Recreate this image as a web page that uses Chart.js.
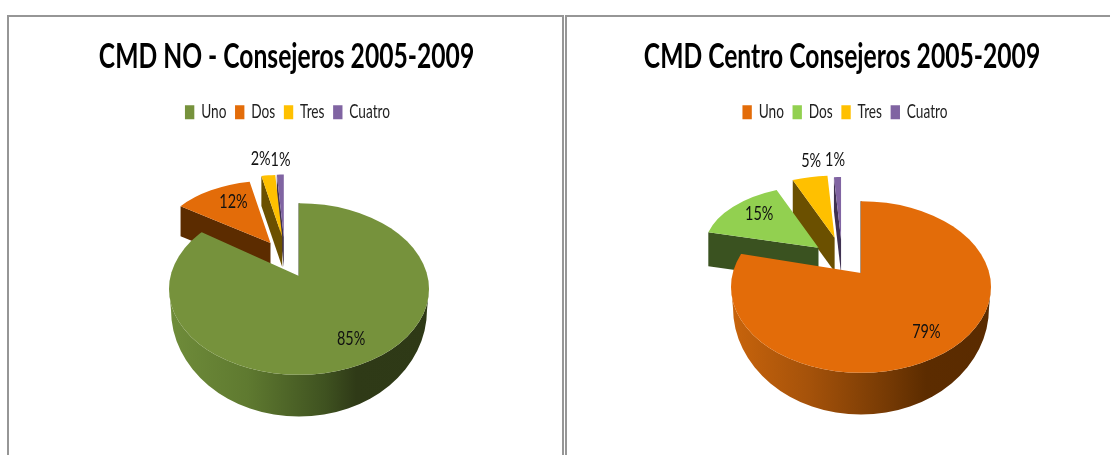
<!DOCTYPE html>
<html><head><meta charset="utf-8">
<script src="https://cdn.jsdelivr.net/npm/chart.js@4"></script>
<style>
html,body{margin:0;padding:0;background:#fff;width:1110px;height:455px;overflow:hidden}
.frame{position:absolute;top:15px;height:520px;border:2px solid #969696;box-sizing:border-box}
canvas{position:absolute;top:17px}
</style></head><body>
<div class="frame" style="left:7px;width:557px"></div>
<div class="frame" style="left:565px;width:600px"></div>
<canvas id="left" width="555" height="438" style="left:9px"></canvas>
<canvas id="right" width="552" height="438" style="left:566px"></canvas>
<script>
const categories = ['Uno','Dos','Tres','Cuatro'];
const titleNO = 'CMD NO - Consejeros 2005-2009';
const titleCentro = 'CMD Centro Consejeros 2005-2009';
const valuesNO = [85,12,2,1];
const valuesCentro = [79,15,5,1];

const FONT = 'Lato,"Liberation Sans",sans-serif';
const SQUEEZE = 0.76;

const pie3d = {
  id:'pie3d',
  // The reference text is horizontally condensed: the library's title and legend are drawn through a narrowing transform.
  beforeDraw(chart,args,o){
    [[chart.titleBlock,o.squeezeTitle,0],[chart.legend,o.squeezeLegend,o.legendShift]].forEach(([box,sq,sh])=>{
      if(!box||box.__wrapped)return;
      const draw=box.draw.bind(box);
      box.__wrapped=true;
      box.draw=function(){
        const c=chart.ctx,m=chart.width/2;
        c.save();c.translate(m+sh,0);c.scale(sq,1);c.translate(-m,0);
        draw();
        c.restore();
      };
    });
  },
  beforeDatasetDraw(chart,args,o){
    const ctx=chart.ctx, arcs=chart.getDatasetMeta(0).data;
    const box=chart.canvas;
    const ax=o.apex[0]-box.offsetLeft, ay=o.apex[1]-box.offsetTop;
    const sliceApex=i=>{
      const a=arcs[i], mid=(a.startAngle+a.endAngle)/2, e=o.explode[i];
      return [ax+e*Math.cos(mid)+o.nudge[i], ay+e*Math.sin(mid)*o.kUp];
    };
    for(let i=arcs.length-1;i>=1;i--){
      const a=arcs[i],[px,py]=sliceApex(i),s=o.shrink,R=a.outerRadius*s;
      const rx=px+R*Math.cos(a.startAngle), ry=py+R*o.kUp*Math.sin(a.startAngle);
      ctx.save();
      ctx.fillStyle=o.walls[i];
      ctx.beginPath();
      ctx.moveTo(px,py);ctx.lineTo(rx,ry);ctx.lineTo(rx,ry+o.depthBack);ctx.lineTo(px,py+o.depthBack);
      ctx.closePath();ctx.fill();
      ctx.restore();
      ctx.save();
      ctx.translate(px,py);ctx.scale(s,s*o.kUp);ctx.translate(-a.x,-a.y);
      a.draw(ctx);
      ctx.restore();
    }
    const m=arcs[0], R=m.outerRadius, ey=ay+o.ellipseDrop, eRy=R*o.kEllipse;
    const g=ctx.createLinearGradient(ax-R,0,ax+R,0);
    o.wallStops.forEach(([p,c])=>g.addColorStop(p,c));
    ctx.save();
    ctx.fillStyle=g;
    ctx.beginPath();
    ctx.ellipse(ax,ey,R,eRy,0,0,Math.PI);
    ctx.ellipse(ax,ey+o.depthSide,R-2,R*o.kBottom,0,Math.PI,0,true);
    ctx.closePath();ctx.fill();
    ctx.strokeStyle=o.walls[0];ctx.lineWidth=1;
    ctx.beginPath();ctx.moveTo(ax,ay);ctx.lineTo(ax,ey-eRy);ctx.stroke();
    ctx.restore();
    // main slice: drawn from its off-centre apex (perspective), clipped to the elliptical outline
    ctx.save();
    ctx.beginPath();ctx.ellipse(ax,ey,R,eRy,0,0,Math.PI*2);ctx.clip();
    ctx.translate(ax,ay);ctx.scale(o.mainScale,o.mainScale*o.kCut);ctx.translate(-m.x,-m.y);
    m.draw(ctx);
    ctx.restore();
    return false;
  },
  afterDatasetsDraw(chart,args,o){
    const ctx=chart.ctx, arcs=chart.getDatasetMeta(0).data, box=chart.canvas;
    const ax=o.apex[0]-box.offsetLeft, ay=o.apex[1]-box.offsetTop;
    const vals=chart.data.datasets[0].data;
    ctx.font=o.labelFont;ctx.fillStyle='#111';ctx.textAlign='center';ctx.textBaseline='middle';
    arcs.forEach((a,i)=>{
      const mid=(a.startAngle+a.endAngle)/2,e=o.explode[i];
      const px=ax+e*Math.cos(mid)+o.nudge[i], py=ay+e*Math.sin(mid)*o.kUp;
      const k=Math.sin(mid)>0?o.kDown:o.kUp;
      const r=o.labelR[i];
      ctx.save();
      ctx.translate(px+r*Math.cos(mid)+o.labelShift[i][0],py+r*Math.sin(mid)*k+o.labelShift[i][1]);
      ctx.scale(SQUEEZE,1);
      ctx.fillText(vals[i]+'%',0,0);
      ctx.restore();
    });
  }
};

function makePie(id,title,values,colors,geom){
  return new Chart(document.getElementById(id),{
    type:'pie',
    data:{labels:categories,datasets:[{data:values,backgroundColor:colors,borderWidth:0}]},
    plugins:[pie3d],
    options:{
      responsive:false,animation:false,radius:130,
      events:[],
      plugins:{
        title:{display:true,text:title,color:'#000',font:{family:FONT,size:34,weight:'bold'},padding:{top:20,bottom:13}},
        legend:{position:'top',labels:{boxWidth:13,boxHeight:14,color:'#222',padding:12,font:{family:FONT,size:19}}},
        tooltip:{enabled:false},
        pie3d:geom
      }
    }
  });
}

const common={kUp:0.56,kDown:0.76,kBottom:0.82,kCut:0.62,mainScale:1.35,kEllipse:0.66,depthSide:21,
  squeezeTitle:0.725,squeezeLegend:0.72,legendShift:0,labelFont:'19px '+FONT};

makePie('left',titleNO,valuesNO,['#76923c','#e36c09','#ffc000','#8064a2'],{...common,
  apex:[299,276],ellipseDrop:13,depthBack:30,shrink:0.855,legendShift:1,
  explode:[0,70,70,70],nudge:[0,9,-8,-13],
  walls:['#3b4a1e','#5c2c00','#6b5000','#3f3151'],
  wallStops:[[0,'#6f8c3a'],[0.3,'#5f7a30'],[0.6,'#3f5220'],[0.72,'#2f3a17'],[1,'#2e3916']],
  labelR:[97,69,140,137],labelShift:[[8,-3],[0,-8],[-4,0],[1,0]]
});
makePie('right',titleCentro,valuesCentro,['#e36c09','#92d050','#ffc000','#8064a2'],{...common,
  kUp:0.546,legendShift:3,
  apex:[861,273],ellipseDrop:14,depthBack:34,shrink:0.875,
  explode:[0,70,66,62],nudge:[0,10,-12,-18],
  walls:['#5c2c00','#3a5220','#6b5000','#3f3151'],
  wallStops:[[0,'#c8640c'],[0.3,'#a5520a'],[0.6,'#763a04'],[0.75,'#5c2c00'],[1,'#5a2b00']],
  labelR:[100,79,144,145],labelShift:[[4,-1],[0,-5],[8,0],[-1.5,0]]
});
</script>
</body></html>
